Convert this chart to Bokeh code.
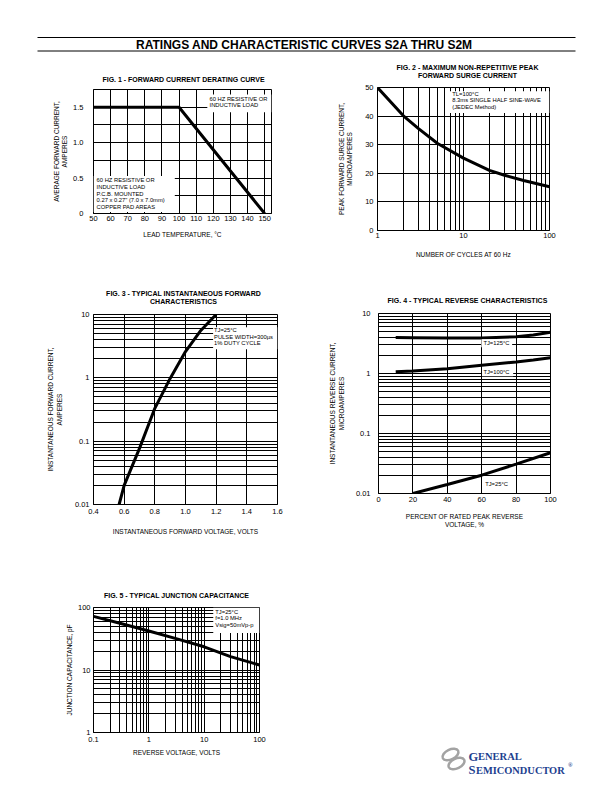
from bokeh.plotting import figure
from bokeh.layouts import column, row
from bokeh.models import FixedTicker, CustomJSTickFormatter, BoxAnnotation, Label, Range1d
from bokeh.embed import file_html
from bokeh.resources import INLINE
from bokeh.core.properties import value

FONT = "Liberation Sans"

# ---------------- data ----------------
page_title = "RATINGS AND CHARACTERISTIC CURVES S2A THRU S2M"

fig1_title = "FIG. 1 - FORWARD CURRENT DERATING CURVE"
fig1_temp = [50, 100, 150]
fig1_current = [1.5, 1.5, 0.0]
fig1_xticks = [50, 60, 70, 80, 90, 100, 110, 120, 130, 140, 150]
fig1_yticks = [0, 0.5, 1.0, 1.5]

fig2_title = ["FIG. 2 - MAXIMUM NON-REPETITIVE PEAK", "FORWARD SURGE CURRENT"]
fig2_cycles = [1, 2, 3, 5, 10, 20, 30, 50, 100]
fig2_surge = [50, 40.1, 35.6, 30.4, 25.3, 21.0, 19.3, 17.5, 15.3]
fig2_xticks = [1, 10, 100]
fig2_yticks = [0, 10, 20, 30, 40, 50]

fig3_title = ["FIG. 3 - TYPICAL INSTANTANEOUS FORWARD", "CHARACTERISTICS"]
fig3_voltage = [0.567, 0.6, 0.7, 0.8, 0.9, 1.0, 1.1, 1.2]
fig3_current = [0.01, 0.02, 0.077, 0.33, 0.98, 2.6, 5.6, 10.0]
fig3_xticks = [0.4, 0.6, 0.8, 1.0, 1.2, 1.4, 1.6]
fig3_yticks = [0.01, 0.1, 1, 10]

fig4_title = "FIG. 4 - TYPICAL REVERSE CHARACTERISTICS"
fig4_pct_hot = [10, 20, 40, 60, 80, 90, 100]
fig4_tj125 = [3.98, 3.95, 3.9, 3.9, 4.1, 4.4, 4.85]
fig4_tj100 = [1.07, 1.1, 1.2, 1.37, 1.56, 1.68, 1.83]
fig4_pct_25 = [20, 40, 60, 80, 100]
fig4_tj25 = [0.01, 0.0141, 0.0202, 0.0308, 0.0477]
fig4_xticks = [0, 20, 40, 60, 80, 100]
fig4_yticks = [0.01, 0.1, 1, 10]

fig5_title = "FIG. 5 - TYPICAL JUNCTION CAPACITANCE"
fig5_voltage = [0.1, 0.3, 1, 3, 10, 30, 100]
fig5_cap = [72, 56, 42, 32, 23.5, 16.4, 12]
fig5_xticks = [0.1, 1, 10, 100]
fig5_yticks = [1, 10, 100]


def log_lines(lo_exp, hi_exp):
    vals = []
    for e in range(lo_exp, hi_exp):
        for m in range(1, 10):
            vals.append(round(m * 10 ** e, 8))
    vals.append(round(10 ** hi_exp, 8))
    return vals


FMT_NUM = CustomJSTickFormatter(code="return tick >= 1 ? tick.toFixed(0) : String(tick);")
FMT_1 = CustomJSTickFormatter(code="return tick == 0 ? '0' : tick.toFixed(1);")


def make_fig(width, height, left, right, top, bottom, x_range, y_range,
             x_type="linear", y_type="linear", xs=(3, 8), ys=(4, 8)):
    p = figure(width=width, height=height, x_range=x_range, y_range=y_range,
               x_axis_type=x_type, y_axis_type=y_type, toolbar_location=None,
               output_backend="svg", min_border_left=left, min_border_right=right,
               min_border_top=top, min_border_bottom=bottom, title=None)
    p.outline_line_color = "black"
    p.outline_line_width = 1
    p.outline_line_alpha = 1
    for ax in p.axis:
        ax.axis_line_color = "black"
        ax.major_tick_line_color = None
        ax.minor_tick_line_color = None
        ax.major_tick_out = 0
        ax.major_tick_in = 0
        ax.minor_tick_out = 0
        ax.minor_tick_in = 0
        ax.major_label_text_font = FONT
        ax.major_label_text_font_size = "7.5px"
        ax.major_label_text_color = "black"
        ax.axis_label_text_font = FONT
        ax.axis_label_text_font_size = "6.5px"
        ax.axis_label_text_font_style = "normal"
        ax.axis_label_text_color = "black"
    p.xaxis.major_label_standoff = xs[0]
    p.xaxis.axis_label_standoff = xs[1]
    p.yaxis.major_label_standoff = ys[0]
    p.yaxis.axis_label_standoff = ys[1]
    for g in (p.xgrid, p.ygrid):
        g.grid_line_color = "black"
        g.grid_line_alpha = 1
        g.grid_line_width = 1
    p.background_fill_color = "white"
    p.border_fill_color = "white"
    return p


def band(width, y0, y1, x0=0):
    b = figure(width=width, height=y1 - y0, x_range=Range1d(x0, x0 + width), y_range=Range1d(y1, y0),
               toolbar_location=None, output_backend="svg", min_border=0,
               x_axis_location=None, y_axis_location=None, title=None)
    b.grid.visible = False
    b.outline_line_color = None
    b.background_fill_color = "white"
    b.border_fill_color = "white"
    return b


def fig_title(b, xs, ys, texts):
    b.text(x=xs, y=ys, text=texts, text_font=value(FONT), text_font_style="bold",
           text_font_size="7px", text_align="center", text_baseline="middle", text_color="black")


def note_box(p, l, r, b, t):
    p.add_layout(BoxAnnotation(left=l, right=r, bottom=b, top=t, fill_color="white",
                               fill_alpha=1, line_color=None))


def note(p, x, y, text, size="5.8px", baseline="top"):
    p.add_layout(Label(x=x, y=y, text=text, text_font=FONT, text_font_size=size,
                       text_baseline=baseline, text_line_height=1.1, text_color="black"))


# ---------------- band A: page title + fig1/fig2 titles ----------------
ba = band(604, 0, 83)
ba.segment(x0=[37, 37], y0=[37, 50.5], x1=[575, 575], y1=[37, 50.5], line_color="black", line_width=1)
ba.text(x=[304], y=[44], text=[page_title], text_font=value(FONT), text_font_style="bold",
        text_font_size="12px", text_align="center", text_baseline="middle", text_color="black")
fig_title(ba, [183, 467, 467], [79, 67, 75], [fig1_title] + fig2_title)

# ---------------- Fig 1 ----------------
p1 = make_fig(310, 179, 93, 39, 6, 49, Range1d(50, 154), Range1d(0, 1.75),
              xs=(2, 7), ys=(10, 2))
p1.xaxis.ticker = FixedTicker(ticks=fig1_xticks)
p1.yaxis.ticker = FixedTicker(ticks=fig1_yticks)
p1.yaxis.formatter = FMT_1
p1.xgrid.ticker = FixedTicker(ticks=fig1_xticks)
p1.ygrid.ticker = FixedTicker(ticks=[0, 0.25, 0.5, 0.75, 1.0, 1.25, 1.5, 1.75])
p1.xaxis.axis_label = "LEAD TEMPERATURE, °C"
p1.yaxis.axis_label = "AVERAGE FORWARD CURRENT,\nAMPERES"
p1.line(fig1_temp, fig1_current, line_color="black", line_width=3)
note_box(p1, 116.5, 154, 1.43, 1.68)
note(p1, 117.8, 1.66, "60 HZ RESISTIVE OR\nINDUCTIVE LOAD")
note_box(p1, 50, 97.5, 0.02, 0.53)
note(p1, 51.8, 0.51, "60 HZ RESISTIVE OR\nINDUCTIVE LOAD\nP.C.B. MOUNTED\n0.27 x 0.27\" (7.0 x 7.0mm)\nCOPPER PAD AREAS")

# ---------------- Fig 2 ----------------
p2 = make_fig(294, 179, 67, 55, 4, 32, Range1d(1, 100), Range1d(0, 50), x_type="log",
              xs=(2, 10), ys=(4, 9))
p2.xaxis.ticker = FixedTicker(ticks=fig2_xticks)
p2.xaxis.formatter = FMT_NUM
p2.yaxis.ticker = FixedTicker(ticks=fig2_yticks)
p2.xgrid.ticker = FixedTicker(ticks=log_lines(0, 2))
p2.ygrid.ticker = FixedTicker(ticks=fig2_yticks)
p2.xaxis.axis_label = "NUMBER OF CYCLES AT 60 Hz"
p2.yaxis.axis_label = "PEAK FORWARD SURGE CURRENT,\nMICROAMPERES"
p2.line(fig2_cycles, fig2_surge, line_color="black", line_width=3)
note_box(p2, 6.9, 100, 41.1, 48.7)
note(p2, 7.4, 48.9, "TL=100°C\n8.3ms SINGLE HALF SINE-WAVE\n(JEDEC Method)")

# ---------------- band B: fig3/fig4 titles ----------------
bb = band(604, 262, 308)
fig_title(bb, [183, 183, 467], [293, 301, 300], fig3_title + [fig4_title])

# ---------------- Fig 3 ----------------
p3 = make_fig(310, 232, 93, 33, 6, 36, Range1d(0.4, 1.6), Range1d(0.01, 10), y_type="log",
              xs=(4, 11), ys=(4, 9))
p3.xaxis.ticker = FixedTicker(ticks=fig3_xticks)
p3.xaxis.formatter = FMT_1
p3.yaxis.ticker = FixedTicker(ticks=fig3_yticks)
p3.yaxis.formatter = FMT_NUM
p3.xgrid.ticker = FixedTicker(ticks=fig3_xticks)
p3.ygrid.ticker = FixedTicker(ticks=log_lines(-2, 1))
p3.xaxis.axis_label = "INSTANTANEOUS FORWARD VOLTAGE, VOLTS"
p3.yaxis.axis_label = "INSTANTANEOUS FORWARD CURRENT,\nAMPERES"
p3.line(fig3_voltage, fig3_current, line_color="black", line_width=3)
note_box(p3, 1.18, 1.6, 2.83, 6.3)
note(p3, 1.186, 6.3, "TJ=25°C\nPULSE WIDTH=300µs\n1% DUTY CYCLE")

# ---------------- Fig 4 ----------------
p4 = make_fig(294, 232, 68, 54, 5, 47, Range1d(0, 100), Range1d(0.01, 10), y_type="log",
              xs=(3, 8), ys=(8, 8))
p4.xaxis.ticker = FixedTicker(ticks=fig4_xticks)
p4.yaxis.ticker = FixedTicker(ticks=fig4_yticks)
p4.yaxis.formatter = FMT_NUM
p4.xgrid.ticker = FixedTicker(ticks=fig4_xticks)
p4.ygrid.ticker = FixedTicker(ticks=log_lines(-2, 1))
p4.xaxis.axis_label = "PERCENT OF RATED PEAK REVERSE\nVOLTAGE, %"
p4.yaxis.axis_label = "INSTANTANEOUS REVERSE CURRENT,\nMICROAMPERES"
p4.line(fig4_pct_hot, fig4_tj125, line_color="black", line_width=3)
p4.line(fig4_pct_hot, fig4_tj100, line_color="black", line_width=3)
p4.line(fig4_pct_25, fig4_tj25, line_color="black", line_width=3)
note_box(p4, 59.8, 77.7, 2.74, 3.73)
note(p4, 61.0, 3.2, "TJ=125°C", baseline="middle")
note_box(p4, 60.2, 78.3, 0.90, 1.26)
note(p4, 61.0, 1.07, "TJ=100°C", baseline="middle")
note_box(p4, 61.2, 76.3, 0.0126, 0.0171)
note(p4, 62.0, 0.0146, "TJ=25°C", baseline="middle")

# ---------------- band C: fig5 title ----------------
bc = band(604, 540, 600)
fig_title(bc, [176], [595], [fig5_title])

# ---------------- Fig 5 ----------------
p5 = make_fig(310, 182, 93, 51, 7, 50, Range1d(0.1, 100), Range1d(1, 100),
              x_type="log", y_type="log", xs=(4, 4), ys=(3, 2))
p5.xaxis.ticker = FixedTicker(ticks=fig5_xticks)
p5.xaxis.formatter = FMT_NUM
p5.yaxis.ticker = FixedTicker(ticks=fig5_yticks)
p5.yaxis.formatter = FMT_NUM
p5.xgrid.ticker = FixedTicker(ticks=log_lines(-1, 2))
p5.ygrid.ticker = FixedTicker(ticks=log_lines(0, 2))
p5.xaxis.axis_label = "REVERSE VOLTAGE, VOLTS"
p5.yaxis.axis_label = "JUNCTION CAPACITANCE, pF"
p5.line(fig5_voltage, fig5_cap, line_color="black", line_width=3)
note_box(p5, 14.6, 100, 39, 100)
note(p5, 15.9, 96, "TJ=25°C\nf=1.0 MHz\nVsig=50mVp-p")

# ---------------- logo ----------------
lg = band(294, 600, 782, x0=310)
lg.ellipse(x=[450, 456], y=[754, 763], width=17, height=10, angle=[0.45, 0.45],
           fill_color=None, line_color="#a3a3a3", line_width=2.5)
BLUE = "#1d3f8f"
SERIF = "Liberation Serif"
lg.text(x=[468], y=[756], text=["G"], text_font=value(SERIF), text_font_style="bold",
        text_font_size="12.5px", text_color=BLUE, text_baseline="alphabetic")
lg.text(x=[477.5], y=[756], text=["ENERAL"], text_font=value(SERIF), text_font_style="bold",
        text_font_size="10.5px", text_color=BLUE, text_baseline="alphabetic")
lg.text(x=[468], y=[769.5], text=["S"], text_font=value(SERIF), text_font_style="bold",
        text_font_size="12.5px", text_color=BLUE, text_baseline="alphabetic")
lg.text(x=[475.5], y=[769.5], text=["EMICONDUCTOR"], text_font=value(SERIF), text_font_style="bold",
        text_font_size="10.4px", text_color=BLUE, text_baseline="alphabetic")
lg.text(x=[567.5], y=[764], text=["®"], text_font=value(SERIF), text_font_style="bold",
        text_font_size="6px", text_color=BLUE, text_baseline="alphabetic")

layout = column(ba,
                row(column(p1), column(p2)),
                bb,
                row(column(p3), column(p4)),
                bc,
                row(column(p5), column(lg)))
open("out.html", "w").write(file_html(layout, INLINE))
